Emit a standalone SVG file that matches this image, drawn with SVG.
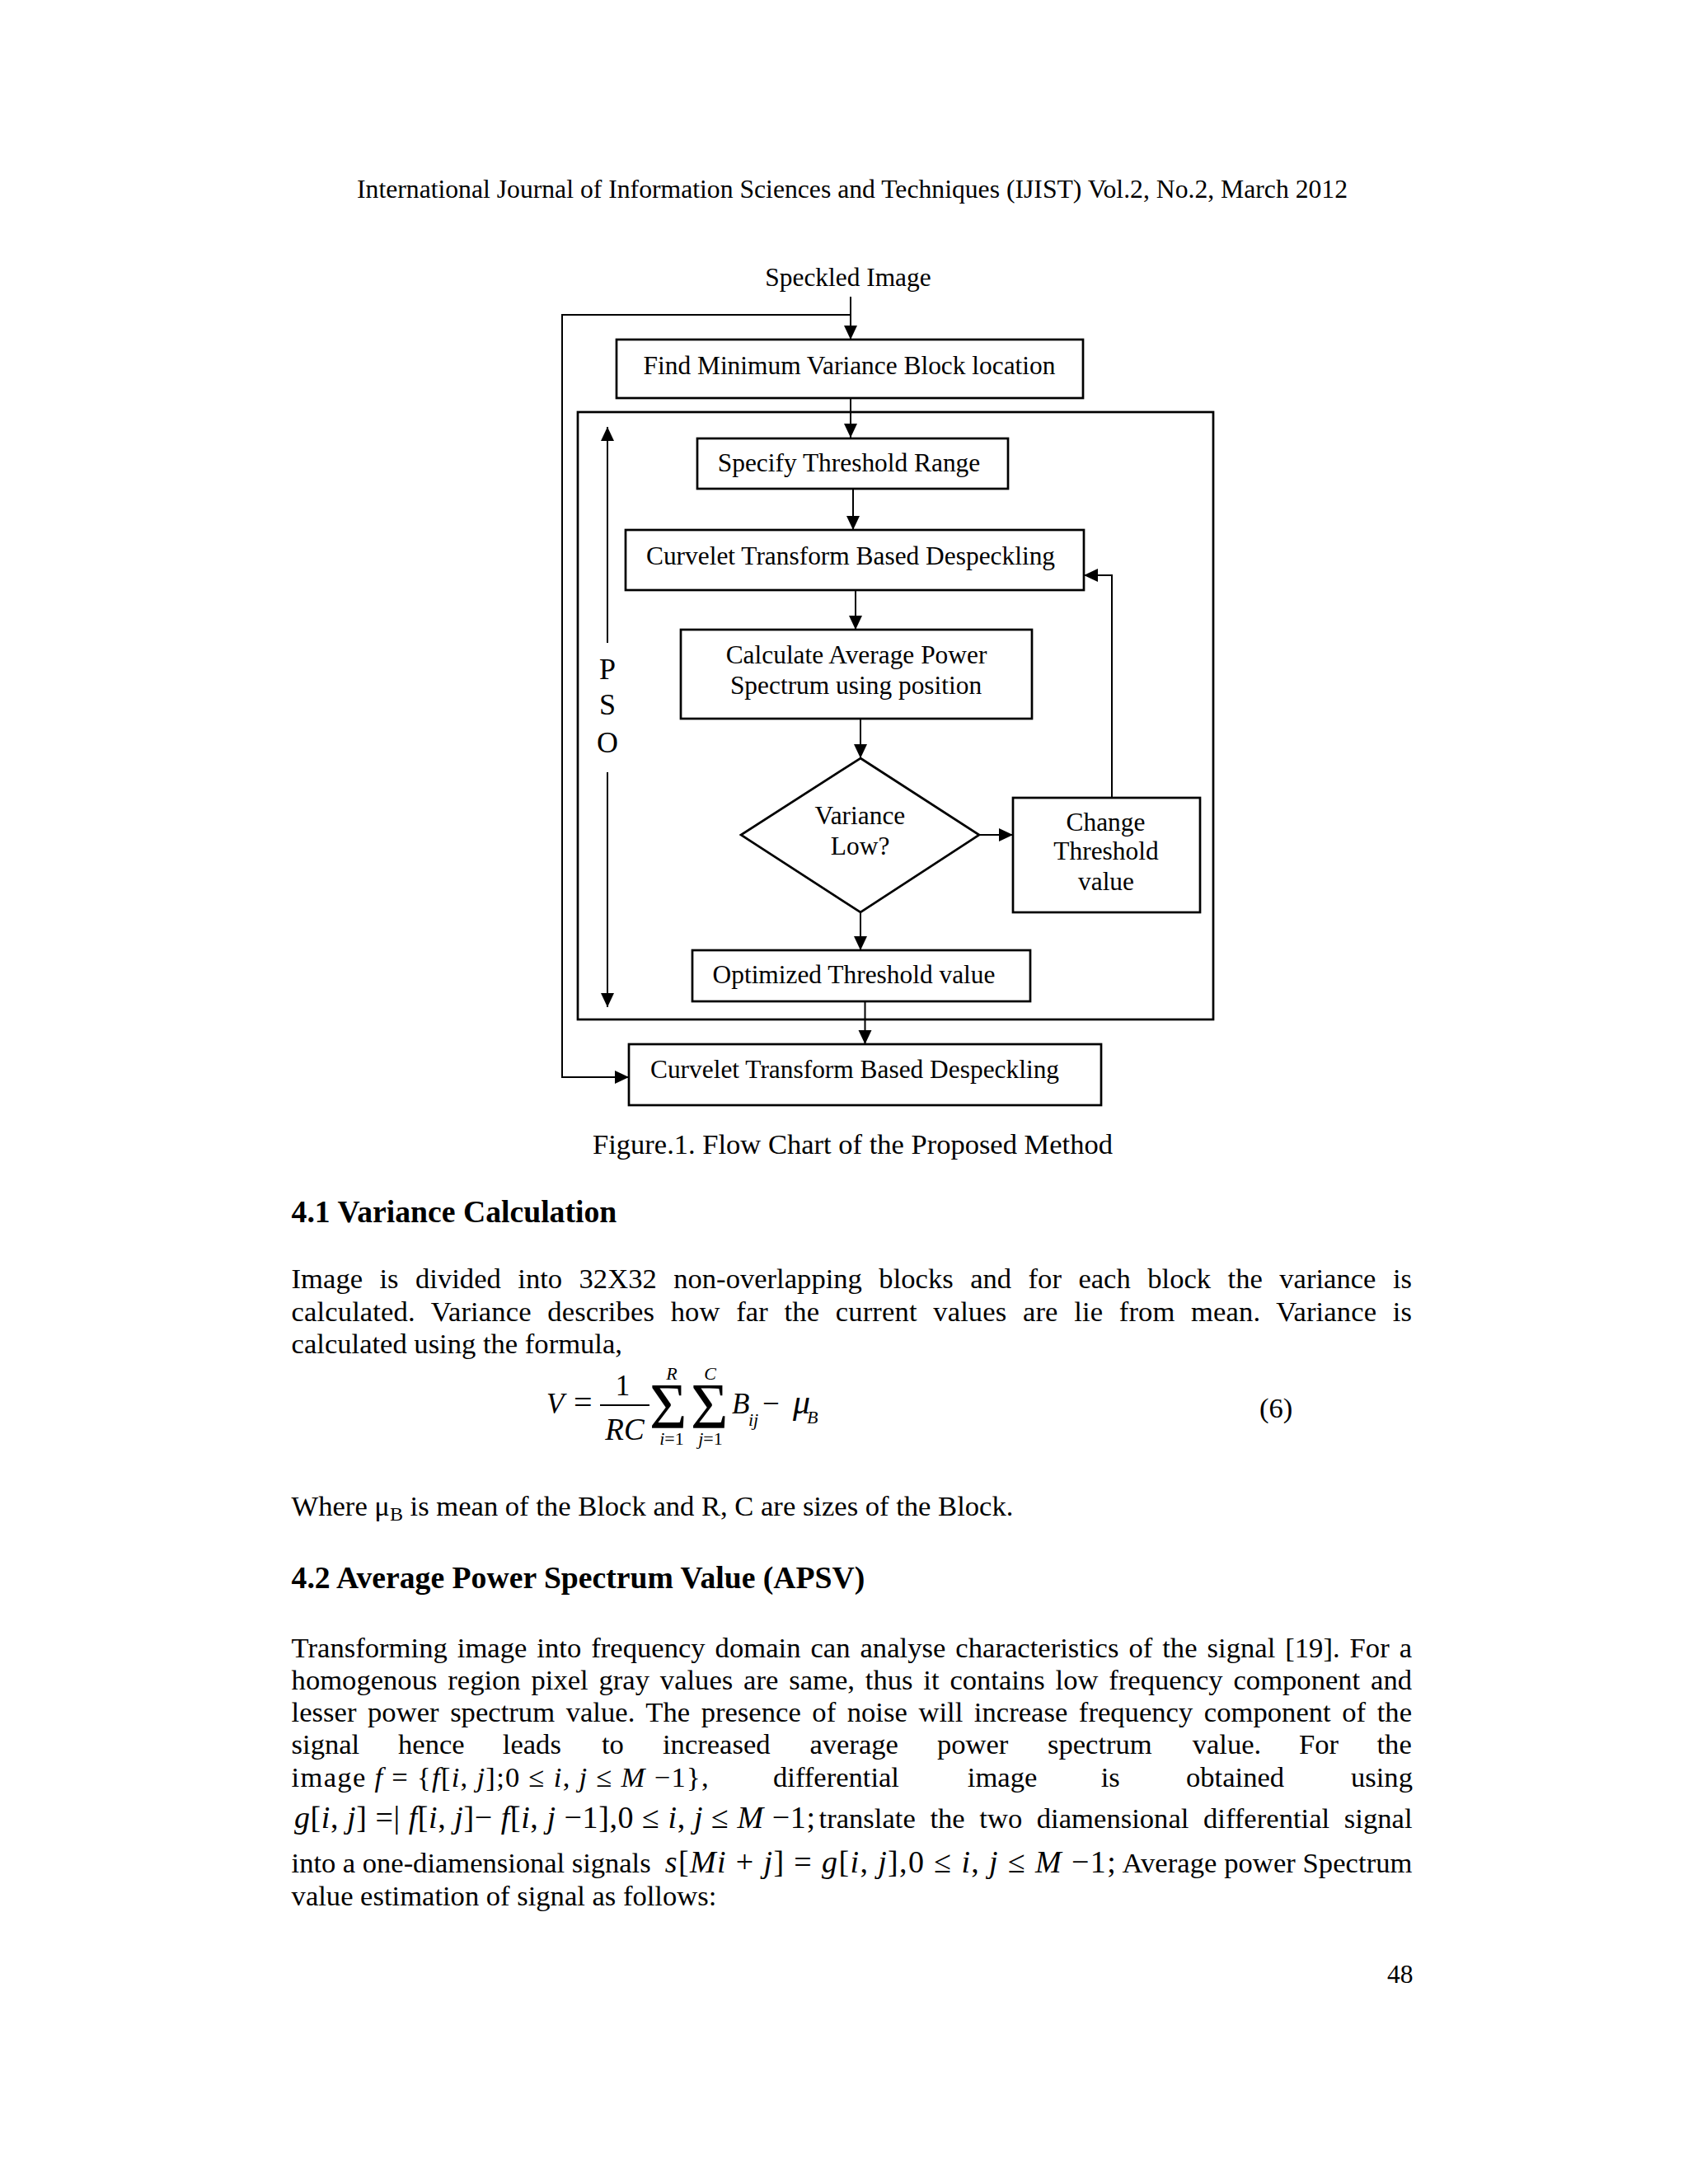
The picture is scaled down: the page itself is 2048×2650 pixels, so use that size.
<svg xmlns="http://www.w3.org/2000/svg" width="2048" height="2650" viewBox="0 0 2048 2650">
<style>
.t{font-family:"Liberation Serif","Times New Roman",serif;fill:#000}
.fc{font-size:31.4px;text-anchor:middle}
.b{font-size:34.6px}
.h{font-size:37.7px;font-weight:bold}
.m{font-size:35px}
.s{font-size:22px}
.i{font-style:italic}
.box{fill:#fff;stroke:#000;stroke-width:2.7}
.conn{fill:none;stroke:#000;stroke-width:2}
</style>
<defs>
<marker id="ah" markerUnits="userSpaceOnUse" markerWidth="18" markerHeight="17" refX="17" refY="8" orient="auto">
<path d="M0,0 L17,8 L0,16 z" fill="#000"/>
</marker>
</defs>
<rect width="2048" height="2650" fill="#fff"/>

<text class="t" x="433" y="240" font-size="31.5" textLength="1202" lengthAdjust="spacingAndGlyphs">International Journal of Information Sciences and Techniques (IJIST) Vol.2, No.2, March 2012</text>

<g id="pso-frame">
<rect class="box" x="701" y="500" width="771" height="737" fill="none"/>
</g>

<g id="connectors">
<line class="conn" x1="1032" y1="360" x2="1032" y2="412" marker-end="url(#ah)"/>
<path class="conn" d="M1032,382 H682 V1307 H763" marker-end="url(#ah)"/>
<line class="conn" x1="1032" y1="483" x2="1032" y2="531" marker-end="url(#ah)"/>
<line class="conn" x1="1035" y1="593" x2="1035" y2="643" marker-end="url(#ah)"/>
<line class="conn" x1="1038" y1="716" x2="1038" y2="764" marker-end="url(#ah)"/>
<line class="conn" x1="1044" y1="872" x2="1044" y2="920" marker-end="url(#ah)"/>
<line class="conn" x1="1188" y1="1013" x2="1229" y2="1013" marker-end="url(#ah)"/>
<path class="conn" d="M1349,968 V698 H1315" marker-end="url(#ah)"/>
<line class="conn" x1="1044" y1="1107" x2="1044" y2="1153" marker-end="url(#ah)"/>
<line class="conn" x1="1049.5" y1="1215" x2="1049.5" y2="1267" marker-end="url(#ah)"/>
<line class="conn" x1="737" y1="780" x2="737" y2="518" marker-end="url(#ah)"/>
<line class="conn" x1="737" y1="937" x2="737" y2="1222" marker-end="url(#ah)"/>
</g>

<g id="input">
<text class="t fc" x="1029" y="347">Speckled Image</text>
</g>

<g id="find-min">
<rect class="box" x="748" y="412" width="566" height="71"/>
<text class="t fc" x="1030.5" y="454">Find Minimum Variance Block location</text>
</g>

<g id="specify">
<rect class="box" x="846" y="532" width="377" height="61"/>
<text class="t fc" x="1030" y="572">Specify Threshold Range</text>
</g>

<g id="curvelet1">
<rect class="box" x="759" y="643" width="556" height="73"/>
<text class="t fc" x="1032" y="685">Curvelet Transform Based Despeckling</text>
</g>

<g id="calc-apsv">
<rect class="box" x="826" y="764" width="426" height="108"/>
<text class="t fc" x="1039" y="805">Calculate Average Power</text>
<text class="t fc" x="1038.5" y="842">Spectrum using position</text>
</g>

<g id="decision">
<polygon class="box" points="1044,920 1188,1013 1044,1107 899,1013"/>
<text class="t fc" x="1043.4" y="1000">Variance</text>
<text class="t fc" x="1043.6" y="1037">Low?</text>
</g>

<g id="change">
<rect class="box" x="1229" y="968" width="227" height="139"/>
<text class="t fc" x="1341.5" y="1008">Change</text>
<text class="t fc" x="1342" y="1043">Threshold</text>
<text class="t fc" x="1342" y="1080">value</text>
</g>

<g id="optimized">
<rect class="box" x="840" y="1153" width="410" height="62"/>
<text class="t fc" x="1036" y="1193">Optimized Threshold value</text>
</g>

<g id="curvelet2">
<rect class="box" x="763" y="1267" width="573" height="74"/>
<text class="t fc" x="1037" y="1308">Curvelet Transform Based Despeckling</text>
</g>

<g id="pso-label">
<text class="t" x="737" y="824" font-size="36" text-anchor="middle">P</text>
<text class="t" x="737" y="867" font-size="36" text-anchor="middle">S</text>
<text class="t" x="737" y="913" font-size="36" text-anchor="middle">O</text>
</g>

<text class="t b" x="719" y="1400" textLength="631" lengthAdjust="spacingAndGlyphs">Figure.1. Flow Chart of the Proposed Method</text>

<text class="t h" x="353.6" y="1483">4.1 Variance Calculation</text>
<text class="t b" x="353.6" y="1563" word-spacing="11.8" textLength="1359.4" lengthAdjust="spacing">Image is divided into 32X32 non-overlapping blocks and for each block the variance is</text>
<text class="t b" x="353.6" y="1603" word-spacing="10.9" textLength="1359.4" lengthAdjust="spacing">calculated. Variance describes how far the current values are lie from mean. Variance is</text>
<text class="t b" x="353.6" y="1642">calculated using the formula,</text>

<g id="eq6">
<text class="t m i" x="663" y="1715">V</text>
<text class="t" x="696" y="1715" font-size="40">=</text>
<text class="t m" x="755.5" y="1693" text-anchor="middle">1</text>
<line x1="728" y1="1705" x2="788" y2="1705" stroke="#000" stroke-width="2"/>
<text class="t i" x="758" y="1746.7" font-size="37" text-anchor="middle">RC</text>
<text class="t" x="788" y="1731.7" font-size="78">Σ</text>
<text class="t" x="838" y="1731.7" font-size="78">Σ</text>
<text class="t s i" x="815" y="1674" text-anchor="middle">R</text>
<text class="t s i" x="861.5" y="1674" text-anchor="middle">C</text>
<text class="t s" x="815" y="1752.5" text-anchor="middle"><tspan class="i">i</tspan>=1</text>
<text class="t s" x="862" y="1752.5" text-anchor="middle"><tspan class="i">j</tspan>=1</text>
<text class="t m i" x="888" y="1715">B</text>
<text class="t s i" x="908" y="1730">ij</text>
<text class="t" x="925" y="1715" font-size="37">−</text>
<text class="t i" x="962" y="1715" font-size="42">μ</text>
<text class="t s i" x="979" y="1726.7">B</text>
</g>
<text class="t b" x="1528" y="1720">(6)</text>

<text class="t b" x="353.6" y="1839">Where μ<tspan font-size="24" dy="6">B</tspan><tspan dy="-6"> is mean of the Block and R, C are sizes of the Block.</tspan></text>

<text class="t h" x="353.6" y="1927">4.2 Average Power Spectrum Value (APSV)</text>
<text class="t b" x="353.6" y="2010.5" word-spacing="3.3" textLength="1359.4" lengthAdjust="spacing">Transforming image into frequency domain can analyse characteristics of the signal [19]. For a</text>
<text class="t b" x="353.6" y="2050" word-spacing="4.2" textLength="1359.4" lengthAdjust="spacing">homogenous region pixel gray values are same, thus it contains low frequency component and</text>
<text class="t b" x="353.6" y="2089" word-spacing="4.9" textLength="1359.4" lengthAdjust="spacing">lesser power spectrum value. The presence of noise will increase frequency component of the</text>
<text class="t b" y="2128"><tspan x="353.6">signal</tspan><tspan x="483">hence</tspan><tspan x="609.8">leads</tspan><tspan x="730">to</tspan><tspan x="804">increased</tspan><tspan x="982.4">average</tspan><tspan x="1136.9">power</tspan><tspan x="1271">spectrum</tspan><tspan x="1446.7">value.</tspan><tspan x="1576">For</tspan><tspan x="1670.5">the</tspan></text>
<text class="t b" x="353.6" y="2168" textLength="506" lengthAdjust="spacing">image <tspan class="i">f</tspan> = {<tspan class="i">f</tspan>[<tspan class="i">i</tspan>, <tspan class="i">j</tspan>];0 ≤ <tspan class="i">i</tspan>, <tspan class="i">j</tspan> ≤ <tspan class="i">M</tspan> −1},</text>
<text class="t b" y="2168"><tspan x="938">differential</tspan><tspan x="1173.8">image</tspan><tspan x="1335.7">is</tspan><tspan x="1439">obtained</tspan><tspan x="1639">using</tspan></text>
<text class="t" x="357" y="2218" font-size="38" textLength="632" lengthAdjust="spacing"><tspan class="i">g</tspan>[<tspan class="i">i</tspan>, <tspan class="i">j</tspan>] =| <tspan class="i">f</tspan>[<tspan class="i">i</tspan>, <tspan class="i">j</tspan>]− <tspan class="i">f</tspan>[<tspan class="i">i</tspan>, <tspan class="i">j</tspan> −1],0 ≤ <tspan class="i">i</tspan>, <tspan class="i">j</tspan> ≤ <tspan class="i">M</tspan> −1;</text>
<text class="t b" x="993.5" y="2218" word-spacing="8.9" textLength="720" lengthAdjust="spacing">translate the two diamensional differential signal</text>
<text class="t b" x="353.6" y="2271.5" textLength="436" lengthAdjust="spacing">into a one-diamensional signals</text>
<text class="t" x="806.7" y="2271.5" font-size="38" textLength="547" lengthAdjust="spacing"><tspan class="i">s</tspan>[<tspan class="i">Mi</tspan> + <tspan class="i">j</tspan>] = <tspan class="i">g</tspan>[<tspan class="i">i</tspan>, <tspan class="i">j</tspan>],0 ≤ <tspan class="i">i</tspan>, <tspan class="i">j</tspan> ≤ <tspan class="i">M</tspan> −1;</text>
<text class="t b" x="1361.5" y="2271.5" textLength="352" lengthAdjust="spacing">Average power Spectrum</text>
<text class="t b" x="353.6" y="2311.5">value estimation of signal as follows:</text>

<text class="t" x="1683" y="2406" font-size="31.5">48</text>
</svg>
